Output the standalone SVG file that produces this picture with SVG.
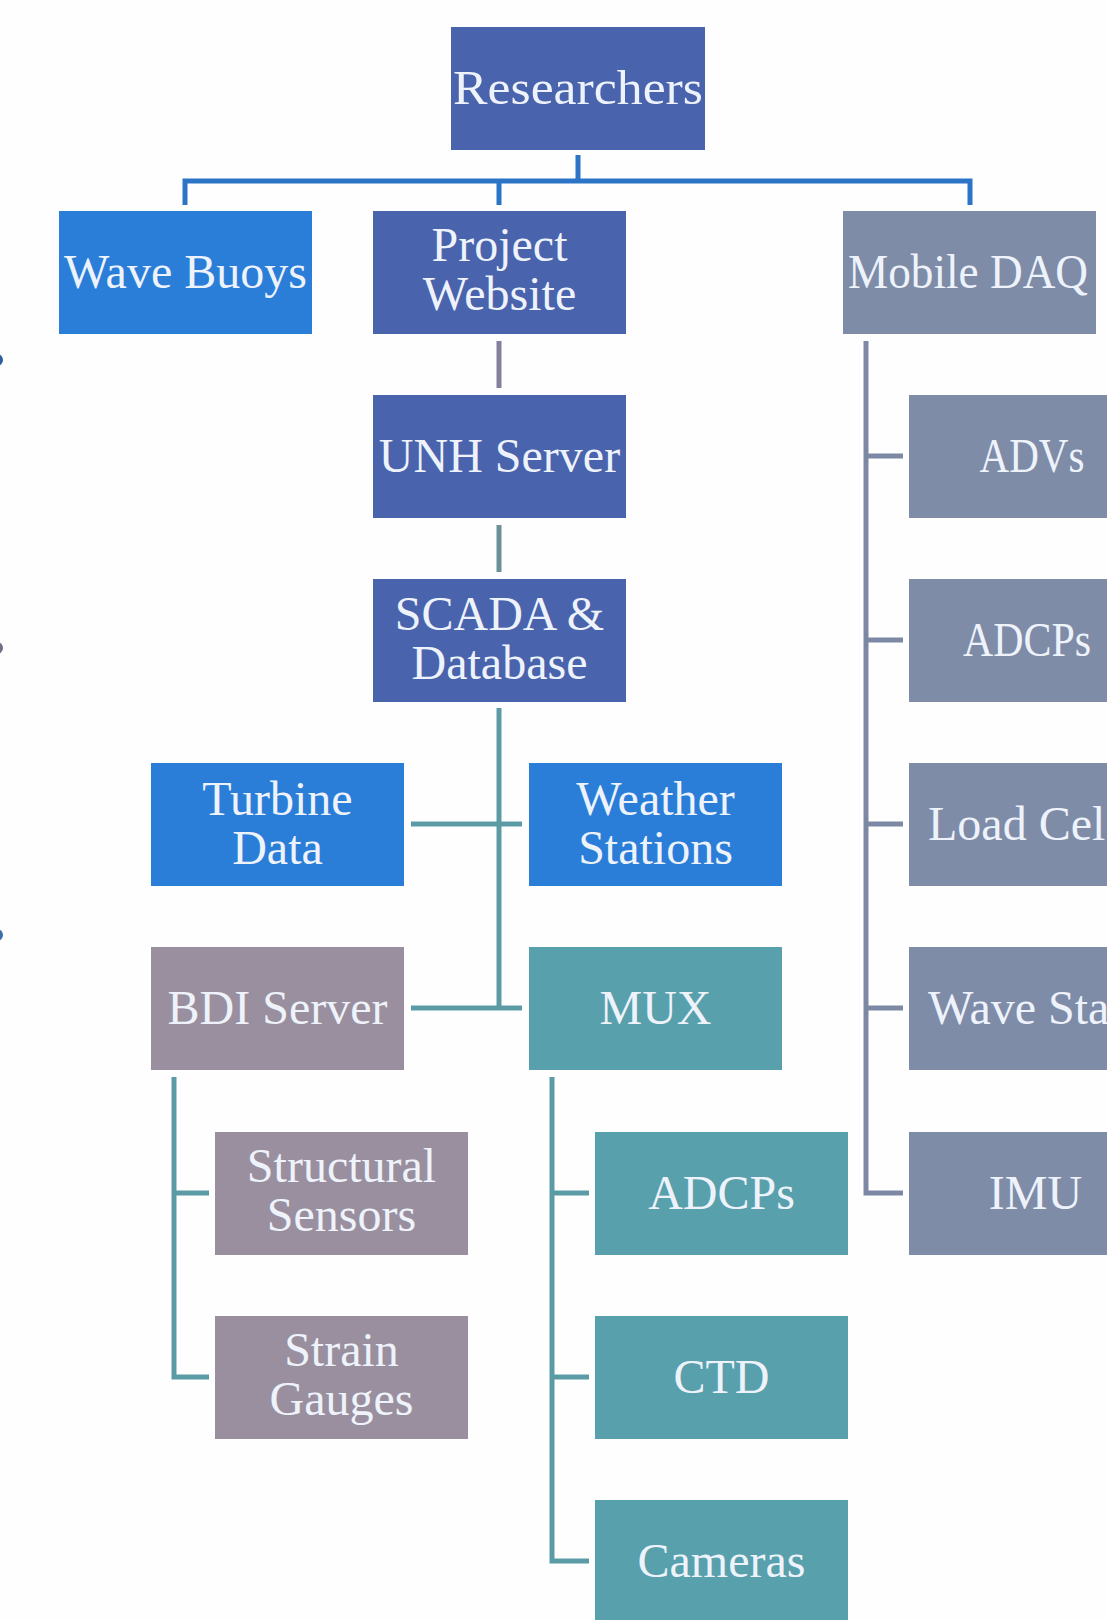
<svg xmlns="http://www.w3.org/2000/svg" width="1107" height="1620" viewBox="0 0 1107 1620">
<style>
.n1{fill:#4a63ad}
.n2{fill:#2b7ed8}
.n3{fill:#7e8ca8}
.n4{fill:#9a8f9e}
.n5{fill:#58a0ac}
text{font-family:"Liberation Serif","Times New Roman",serif;font-size:48px;fill:#eef3fb;text-anchor:middle}
text.s{text-anchor:start}
.c{fill:none;stroke-width:5;stroke-linecap:butt;stroke-linejoin:miter}
</style>
<rect width="1107" height="1620" fill="#fefefe"/>
<g id="edge-marks">
<circle cx="-3" cy="360" r="6" fill="#2a5fa0"/>
<circle cx="-3" cy="648" r="6" fill="#6e7080"/>
<circle cx="-3" cy="935" r="6" fill="#3a6fa8"/>
</g>
<g id="connectors">
<path class="c" stroke="#2b74c6" d="M578,155 V181 M185,205 V181 H970 V205 M499,181 V205"/>
<path class="c" stroke="#857f9c" d="M499,341 V388"/>
<path class="c" stroke="#6a9098" d="M499,525 V572"/>
<path class="c" stroke="#5b9ba6" d="M499,708 V1008 M411,824 H522 M411,1008 H522"/>
<path class="c" stroke="#5b9ba6" d="M174,1077 V1377 H209 M174,1193 H209"/>
<path class="c" stroke="#5b9ba6" d="M552,1077 V1561 H589 M552,1193 H589 M552,1377 H589"/>
<path class="c" stroke="#7d88a4" d="M866,341 V1193 H903 M866,456 H903 M866,640 H903 M866,824 H903 M866,1008 H903"/>
</g>
<g id="researchers"><rect class="n1" x="451" y="27" width="254" height="123"/><text x="578" y="104" textLength="250" lengthAdjust="spacingAndGlyphs">Researchers</text></g>
<g id="wave-buoys"><rect class="n2" x="59" y="211" width="253" height="123"/><text x="185.5" y="288">Wave Buoys</text></g>
<g id="project-website"><rect class="n1" x="373" y="211" width="253" height="123"/><text x="499.5" y="261">Project</text><text x="499.5" y="310">Website</text></g>
<g id="mobile-daq"><rect class="n3" x="843" y="211" width="253" height="123"/><text x="968" y="288" textLength="240" lengthAdjust="spacingAndGlyphs">Mobile DAQ</text></g>
<g id="unh-server"><rect class="n1" x="373" y="395" width="253" height="123"/><text x="499.5" y="472">UNH Server</text></g>
<g id="scada-database"><rect class="n1" x="373" y="579" width="253" height="123"/><text x="499.5" y="630">SCADA &amp;</text><text x="499.5" y="679">Database</text></g>
<g id="turbine-data"><rect class="n2" x="151" y="763" width="253" height="123"/><text x="277.5" y="815">Turbine</text><text x="277.5" y="864">Data</text></g>
<g id="weather-stations"><rect class="n2" x="529" y="763" width="253" height="123"/><text x="655.5" y="815">Weather</text><text x="655.5" y="864">Stations</text></g>
<g id="bdi-server"><rect class="n4" x="151" y="947" width="253" height="123"/><text x="277.5" y="1024">BDI Server</text></g>
<g id="mux"><rect class="n5" x="529" y="947" width="253" height="123"/><text x="655.5" y="1024">MUX</text></g>
<g id="structural-sensors"><rect class="n4" x="215" y="1132" width="253" height="123"/><text x="341.5" y="1182">Structural</text><text x="341.5" y="1231">Sensors</text></g>
<g id="strain-gauges"><rect class="n4" x="215" y="1316" width="253" height="123"/><text x="341.5" y="1366">Strain</text><text x="341.5" y="1415">Gauges</text></g>
<g id="mux-adcps"><rect class="n5" x="595" y="1132" width="253" height="123"/><text x="721.5" y="1209">ADCPs</text></g>
<g id="ctd"><rect class="n5" x="595" y="1316" width="253" height="123"/><text x="721.5" y="1393">CTD</text></g>
<g id="cameras"><rect class="n5" x="595" y="1500" width="253" height="123"/><text x="721.5" y="1577">Cameras</text></g>
<g id="advs"><rect class="n3" x="909" y="395" width="253" height="123"/><text x="1032" y="472" textLength="105" lengthAdjust="spacingAndGlyphs">ADVs</text></g>
<g id="daq-adcps"><rect class="n3" x="909" y="579" width="253" height="123"/><text x="1027" y="656" textLength="128" lengthAdjust="spacingAndGlyphs">ADCPs</text></g>
<g id="load-cells"><rect class="n3" x="909" y="763" width="253" height="123"/><text class="s" x="928" y="840">Load Cel</text></g>
<g id="wave-sta"><rect class="n3" x="909" y="947" width="253" height="123"/><text class="s" x="928" y="1024">Wave Sta</text></g>
<g id="imu"><rect class="n3" x="909" y="1132" width="253" height="123"/><text x="1035.5" y="1209">IMU</text></g>
</svg>
